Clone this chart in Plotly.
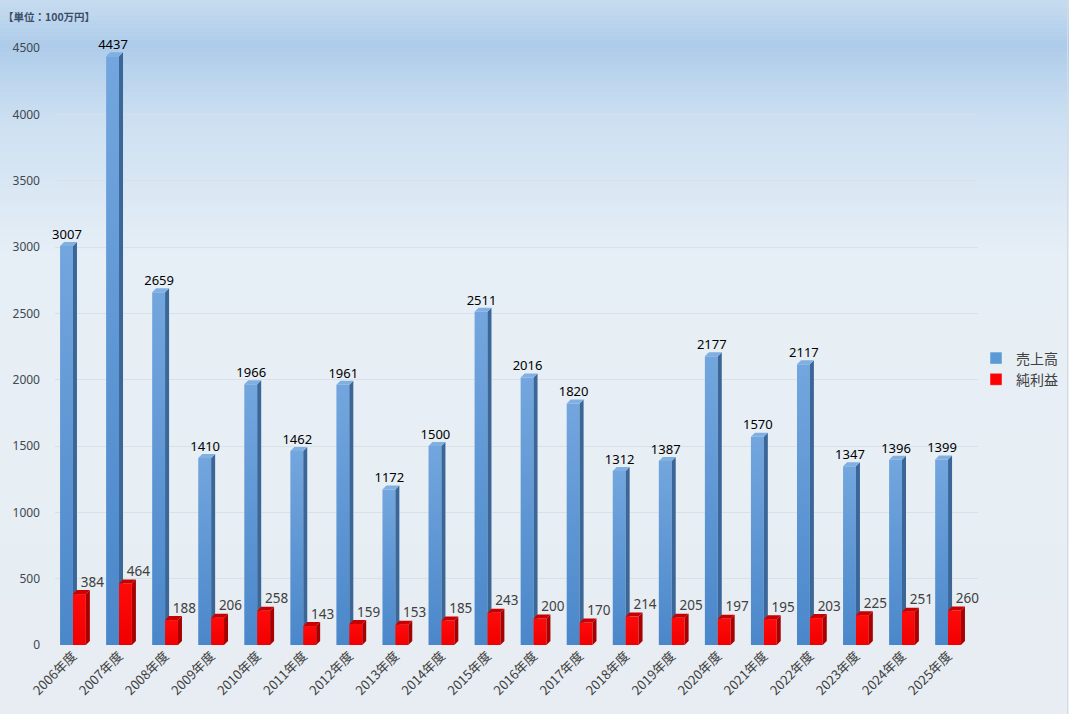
import plotly.graph_objects as go

years = ["2006年度", "2007年度", "2008年度", "2009年度", "2010年度", "2011年度", "2012年度",
         "2013年度", "2014年度", "2015年度", "2016年度", "2017年度", "2018年度", "2019年度",
         "2020年度", "2021年度", "2022年度", "2023年度", "2024年度", "2025年度"]
sales = [3007, 4437, 2659, 1410, 1966, 1462, 1961, 1172, 1500, 2511,
         2016, 1820, 1312, 1387, 2177, 1570, 2117, 1347, 1396, 1399]
profit = [384, 464, 188, 206, 258, 143, 159, 153, 185, 243,
          200, 170, 214, 205, 197, 195, 203, 225, 251, 260]
y_ticks = [0, 500, 1000, 1500, 2000, 2500, 3000, 3500, 4000, 4500]
series_names = ["売上高", "純利益"]
unit_label = "【単位：100万円】"

W, H = 1069, 714
ML, MR, MT, MB = 55, 91, 48, 69
PW, PH = W - ML - MR, H - MT - MB
XR = [-0.39, 19.65]
YR = [0, 4500]
BW = 0.28                         # front face width (category units)
DX = 4 * (XR[1] - XR[0]) / PW     # 3D depth in x (data units)
DY = 4 * (YR[1] - YR[0]) / PH     # 3D depth in y (data units)

FONT = "Noto Sans, Noto Sans CJK JP, sans-serif"
JFONT = "Noto Sans CJK JP, Noto Sans, sans-serif"

idx = list(range(len(years)))

fig = go.Figure()

styles = [
    # values, offset, legend colour, front gradient (bottom, top), side, top
    (sales, -BW, "#5b9bd5", ("#4a87ca", "#73a6de"), "#3a6797", "#80afe2"),
    (profit, 0.0, "#ff0000", ("#f00000", "#ff0a0a"), "#a80000", "#c80000"),
]
for name, (vals, off, legc, grad, side, top) in zip(series_names, styles):
    # legend entry only
    fig.add_trace(go.Bar(x=[None], y=[None], name=name, marker=dict(color=legc),
                         hoverinfo="skip"))
    # front faces
    for i, v in zip(idx, vals):
        x0, x1 = i + off, i + off + BW
        fig.add_trace(go.Scatter(
            x=[x0, x1, x1, x0, x0], y=[0, 0, v, v, 0], fill="toself", mode="lines",
            line=dict(width=0, color=grad[0]),
            fillgradient=dict(type="vertical", start=0, stop=v,
                              colorscale=[[0, grad[0]], [1, grad[1]]]),
            showlegend=False, hoverinfo="skip", cliponaxis=False))
    # side and top faces
    sx, sy, tx, ty = [], [], [], []
    for i, v in zip(idx, vals):
        x0 = i + off
        x1 = x0 + BW
        sx += [x1, x1 + DX, x1 + DX, x1, x1, None]
        sy += [0, DY, v + DY, v, 0, None]
        tx += [x0, x1, x1 + DX, x0 + DX, x0, None]
        ty += [v, v, v + DY, v + DY, v, None]
    fig.add_trace(go.Scatter(x=sx, y=sy, fill="toself", fillcolor=side, mode="lines",
                             line=dict(width=0, color=side), showlegend=False,
                             hoverinfo="skip", cliponaxis=False))
    fig.add_trace(go.Scatter(x=tx, y=ty, fill="toself", fillcolor=top, mode="lines",
                             line=dict(width=0, color=top), showlegend=False,
                             hoverinfo="skip", cliponaxis=False))

# value labels
fig.add_trace(go.Scatter(x=[i - BW / 2 + 0.01 for i in idx], y=[v + DY for v in sales],
                         mode="text", text=[str(v) for v in sales], textposition="top center",
                         textfont=dict(family=FONT, size=13, color="#000000"),
                         showlegend=False, hoverinfo="skip", cliponaxis=False))
fig.add_trace(go.Scatter(x=[i + 0.42 for i in idx], y=[v + DY for v in profit],
                         mode="text", text=[str(v) for v in profit], textposition="top center",
                         textfont=dict(family=FONT, size=13.5, color="#404040"),
                         showlegend=False, hoverinfo="skip", cliponaxis=False))

# background gradient (pixel stops -> colour)
stops = [(0, (200, 220, 240)), (45, (173, 204, 234)), (120, (205, 224, 242)),
         (260, (231, 239, 246)), (714, (231, 237, 242))]
def col_at(p):
    for (p0, c0), (p1, c1) in zip(stops, stops[1:]):
        if p0 <= p <= p1:
            t = (p - p0) / (p1 - p0)
            return "rgb(%d,%d,%d)" % tuple(round(a + (b - a) * t) for a, b in zip(c0, c1))
    return "rgb(%d,%d,%d)" % stops[-1][1]

shapes = []
step = 4
for p in range(0, H, step):
    y_top = (H - MB - p) / PH
    y_bot = (H - MB - (p + step + 0.5)) / PH
    shapes.append(dict(type="rect", xref="paper", yref="paper", x0=-0.2, x1=1.3,
                       y0=y_bot, y1=y_top, fillcolor=col_at(p + step / 2),
                       line=dict(width=0), layer="below"))
# thin frame at the right edge
shapes.append(dict(type="line", xref="paper", yref="paper",
                   x0=(W - ML - 1.5) / PW, x1=(W - ML - 1.5) / PW,
                   y0=(H - MB - 0) / PH, y1=-MB / PH,
                   line=dict(color="#d4dbe2", width=1), layer="below"))

fig.update_layout(
    width=W, height=H, autosize=False,
    margin=dict(l=ML, r=MR, t=MT, b=MB, pad=0, autoexpand=False),
    paper_bgcolor="rgba(0,0,0,0)", plot_bgcolor="rgba(0,0,0,0)",
    barmode="overlay",
    shapes=shapes,
    font=dict(family=JFONT, color="#404040"),
    xaxis=dict(range=XR, tickmode="array", tickvals=idx, ticktext=years, tickangle=-45,
               showgrid=False, zeroline=False, showline=False, automargin=False,
               tickfont=dict(family=JFONT, size=13, color="#404040")),
    yaxis=dict(range=YR, tickmode="array", tickvals=y_ticks, ticktext=[str(t) for t in y_ticks],
               showgrid=True, gridcolor="#d8e1ea", gridwidth=1, zeroline=False, showline=False,
               ticklabelstandoff=14, automargin=False,
               tickfont=dict(family=FONT, size=12, color="#404850")),
    legend=dict(x=(976 - ML) / PW, y=(H - MB - 369) / PH, xanchor="left", yanchor="middle",
                bgcolor="rgba(0,0,0,0)", itemwidth=30,
                font=dict(family=JFONT, size=14, color="#404040")),
    annotations=[dict(text="<b>" + unit_label + "</b>", xref="paper", yref="paper",
                      x=(1 - ML) / PW, y=(H - MB - 17) / PH, xanchor="left", yanchor="middle",
                      showarrow=False, font=dict(family=JFONT, size=10.5, color="#3b4e68"))],
)

fig.write_html("out.html", config={"displayModeBar": False},
               post_script="document.body.style.margin='0';")
